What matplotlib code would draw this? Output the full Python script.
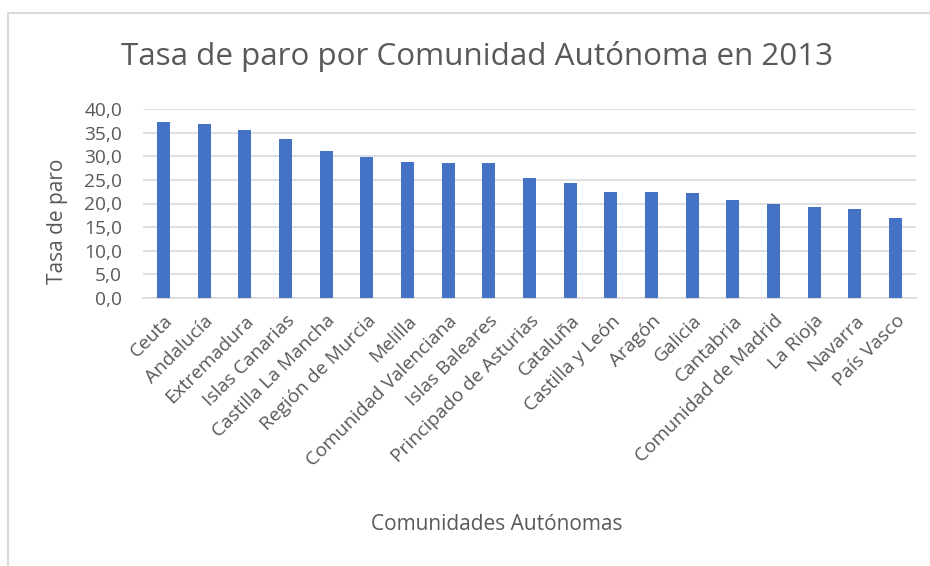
import matplotlib.pyplot as plt
from matplotlib.lines import Line2D

# data
comunidades = ['Ceuta', 'Andalucía', 'Extremadura', 'Islas Canarias',
               'Castilla La Mancha', 'Región de Murcia', 'Melilla',
               'Comunidad Valenciana', 'Islas Baleares',
               'Principado de Asturias', 'Cataluña', 'Castilla y León',
               'Aragón', 'Galicia', 'Cantabria', 'Comunidad de Madrid',
               'La Rioja', 'Navarra', 'País Vasco']
tasa_paro = [37.3, 36.8, 35.6, 33.7, 31.1, 29.8, 28.8, 28.6, 28.5,
             25.4, 24.4, 22.5, 22.4, 22.2, 20.7, 19.9, 19.2, 18.9, 17.0]
yticks = [0, 5, 10, 15, 20, 25, 30, 35, 40]

text_color = '#595959'
plt.rcParams['font.family'] = ['Open Sans', 'DejaVu Sans']

fig = plt.figure(figsize=(9.3, 5.66), dpi=100)
ax = fig.add_axes([143 / 930, 1 - 298 / 566, (916 - 143) / 930, (298 - 109) / 566])

x = range(len(comunidades))
ax.bar(x, tasa_paro, width=0.32, color='#4472C4', zorder=3)

ax.set_xlim(-0.5, len(comunidades) - 0.5)
ax.set_ylim(0, 40)
ax.set_yticks(yticks)
ax.set_yticklabels([('%.1f' % v).replace('.', ',') for v in yticks])
ax.set_xticks(list(x))
ax.set_xticklabels(comunidades, rotation=45, ha='right', rotation_mode='anchor')

ax.tick_params(axis='both', length=0, colors=text_color, labelsize=13.8)
ax.tick_params(axis='x', pad=10)
ax.tick_params(axis='y', pad=15)
ax.grid(axis='y', color='#D9D9D9', linewidth=1.2, zorder=0)
for side in ['top', 'right', 'left']:
    ax.spines[side].set_visible(False)
ax.spines['bottom'].set_color('#D9D9D9')
ax.spines['bottom'].set_linewidth(1.2)

fig.text(57 / 930, 1 - 221 / 566, 'Tasa de paro', rotation=90,
         fontsize=15, color=text_color, ha='center', va='center')
fig.text(497 / 930, 1 - 524 / 566, 'Comunidades Autónomas',
         fontsize=15, color=text_color, ha='center', va='center')
fig.text(477 / 930, 1 - 57 / 566, 'Tasa de paro por Comunidad Autónoma en 2013',
         fontsize=22.6, color=text_color, ha='center', va='center')

# chart frame (cropped at right and bottom)
fig.add_artist(Line2D([8 / 930, 8 / 930], [0, 1 - 13 / 566], color='#D9D9D9', lw=1.5,
                      transform=fig.transFigure))
fig.add_artist(Line2D([8 / 930, 1], [1 - 13 / 566, 1 - 13 / 566], color='#D9D9D9', lw=1.5,
                      transform=fig.transFigure))

fig.savefig('out.png', dpi=100)
